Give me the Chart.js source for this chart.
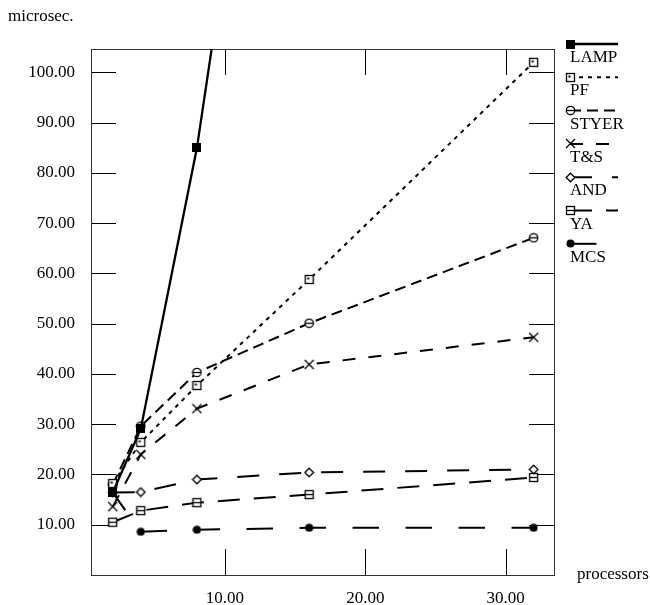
<!DOCTYPE html>
<html><head><meta charset="utf-8">
<script src="https://cdn.jsdelivr.net/npm/chart.js@4.4.0/dist/chart.umd.min.js"></script>
<style>html,body{margin:0;padding:0;background:#fff;}canvas{display:block;}</style>
</head><body>
<canvas id="c" width="650" height="605"></canvas>
<script>
// ---- data ----
const processors = [2, 4, 8, 16, 32];
const seriesNames = ['LAMP', 'PF', 'STYER', 'T&S', 'AND', 'YA', 'MCS'];
const lamp  = [16.4, 29.1, 85.0, 235.0];
const pf    = [18.2, 26.4, 37.7, 58.8, 102.0];
const styer = [18.0, 29.6, 40.3, 50.1, 67.1];
const ts    = [13.6, 24.0, 33.1, 41.9, 47.3];
const andS  = [16.4, 16.5, 19.0, 20.4, 21.0];
const ya    = [10.5, 12.8, 14.4, 16.0, 19.4];
const mcs   = [16.4, 8.6, 9.0, 9.4, 9.4];
const xTickValues = [10, 20, 30];
const yTickValues = [10, 20, 30, 40, 50, 60, 70, 80, 90, 100];

const FONT = '17px "Liberation Serif", "Times New Roman", serif';

function mk(size, fn) {
  const c = document.createElement('canvas');
  c.width = c.height = size;
  const g = c.getContext('2d');
  g.strokeStyle = '#000'; g.fillStyle = '#000'; g.lineWidth = 1.3;
  fn(g, size);
  return c;
}
const markers = [
  mk(9, g => { g.fillRect(0, 0, 9, 9); }),
  mk(11, g => { g.fillStyle = '#fff'; g.fillRect(1.5, 1.5, 8, 8); g.strokeRect(1.5, 1.5, 8, 8);
                g.fillStyle = '#000'; g.fillRect(3.5, 3.5, 2, 2); }),
  mk(11, g => { g.beginPath(); g.arc(5.5, 5.5, 4.2, 0, Math.PI * 2); g.fillStyle = '#fff'; g.fill(); g.stroke();
                g.beginPath(); g.moveTo(1.5, 5.5); g.lineTo(9.5, 5.5); g.stroke(); }),
  mk(11, g => { g.beginPath(); g.moveTo(1, 1); g.lineTo(10, 10); g.moveTo(10, 1); g.lineTo(1, 10); g.stroke(); }),
  mk(11, g => { g.beginPath(); g.moveTo(5.5, 1.2); g.lineTo(9.8, 5.5); g.lineTo(5.5, 9.8); g.lineTo(1.2, 5.5); g.closePath();
                g.fillStyle = '#fff'; g.fill(); g.stroke(); }),
  mk(11, g => { g.fillStyle = '#fff'; g.fillRect(1.5, 1.5, 8, 8); g.strokeRect(1.5, 1.5, 8, 8);
                g.beginPath(); g.moveTo(1.5, 5.5); g.lineTo(9.5, 5.5); g.stroke(); }),
  mk(9, g => { g.beginPath(); g.arc(4.5, 4.5, 4, 0, Math.PI * 2); g.fill(); })
];
const dashes = [[], [4, 5], [11, 6], [13, 13], [22, 20], [22, 14], [26.5, 26.5]];
const widths = [2.3, 2, 2, 2, 2, 2, 2];
const values = [lamp, pf, styer, ts, andS, ya, mcs];

const datasets = values.map((vals, i) => ({
  label: seriesNames[i],
  data: vals.map((v, k) => ({ x: processors[k], y: v })),
  borderColor: '#000',
  backgroundColor: '#000',
  borderWidth: widths[i],
  borderDash: dashes[i],
  borderDashOffset: i === 6 ? 5 : 0,
  pointStyle: markers[i],
  pointRadius: 5,
  pointHoverRadius: 5,
  tension: 0,
  fill: false
}));

const deco = {
  id: 'deco',
  beforeDatasetsDraw(chart) {
    const { ctx, chartArea: a, scales: { x, y } } = chart;
    ctx.save();
    ctx.lineWidth = 1;
    ctx.strokeStyle = '#000';
    ctx.beginPath();
    x.ticks.forEach(t => {
      const px = Math.round(x.getPixelForValue(t.value)) + 0.5;
      ctx.moveTo(px, a.bottom); ctx.lineTo(px, a.bottom - 26);
      ctx.moveTo(px, a.top); ctx.lineTo(px, a.top + 26);
    });
    y.ticks.forEach(t => {
      const py = Math.round(y.getPixelForValue(t.value)) + 0.5;
      ctx.moveTo(a.left, py); ctx.lineTo(a.left + 25, py);
      ctx.moveTo(a.right, py); ctx.lineTo(a.right - 25, py);
    });
    ctx.stroke();
    ctx.strokeStyle = '#333';
    ctx.strokeRect(Math.round(a.left) + 0.5, Math.round(a.top) + 0.5,
                   Math.round(a.right - a.left), Math.round(a.bottom - a.top));
    ctx.restore();
  },
  afterDraw(chart) {
    const ctx = chart.ctx;
    ctx.save();
    ctx.fillStyle = '#000';
    ctx.font = FONT;
    ctx.textBaseline = 'alphabetic';
    ctx.textAlign = 'left';
    ctx.fillText('microsec.', 8, 21);
    ctx.fillText('processors', 577, 579);
    chart.data.datasets.forEach((ds, i) => {
      const ym = 44 + 33.3 * i;
      ctx.save();
      ctx.strokeStyle = '#000';
      ctx.lineWidth = ds.borderWidth;
      ctx.setLineDash(ds.borderDash);
      ctx.beginPath(); ctx.moveTo(570, ym); ctx.lineTo(618, ym); ctx.stroke();
      ctx.restore();
      const m = ds.pointStyle;
      ctx.drawImage(m, Math.round(570 - m.width / 2), Math.round(ym - m.height / 2));
      ctx.fillText(ds.label, 570, 62 + 33.3 * i);
    });
    ctx.restore();
  }
};

new Chart(document.getElementById('c'), {
  type: 'line',
  data: { datasets },
  options: {
    responsive: false,
    animation: false,
    devicePixelRatio: 1,
    layout: { padding: { top: 49, right: 96, left: 0, bottom: 0 } },
    plugins: { legend: { display: false }, tooltip: { enabled: false }, title: { display: false } },
    scales: {
      x: {
        type: 'linear', min: 0.45, max: 33.45,
        afterBuildTicks: s => { s.ticks = xTickValues.map(v => ({ value: v })); },
        afterFit: s => { s.height = 30; },
        grid: { display: false, drawTicks: false },
        border: { display: false },
        ticks: { color: '#000', font: { family: '"Liberation Serif", serif', size: 17 }, padding: 13,
                 maxRotation: 0, autoSkip: false, callback: v => Number(v).toFixed(2) }
      },
      y: {
        type: 'linear', min: 0, max: 104.66,
        afterBuildTicks: s => { s.ticks = yTickValues.map(v => ({ value: v })); },
        afterFit: s => { s.width = 91; },
        grid: { display: false, drawTicks: false },
        border: { display: false },
        ticks: { color: '#000', font: { family: '"Liberation Serif", serif', size: 17 }, padding: 16,
                 autoSkip: false, callback: v => Number(v).toFixed(2) }
      }
    }
  },
  plugins: [deco]
});
</script>
</body></html>
